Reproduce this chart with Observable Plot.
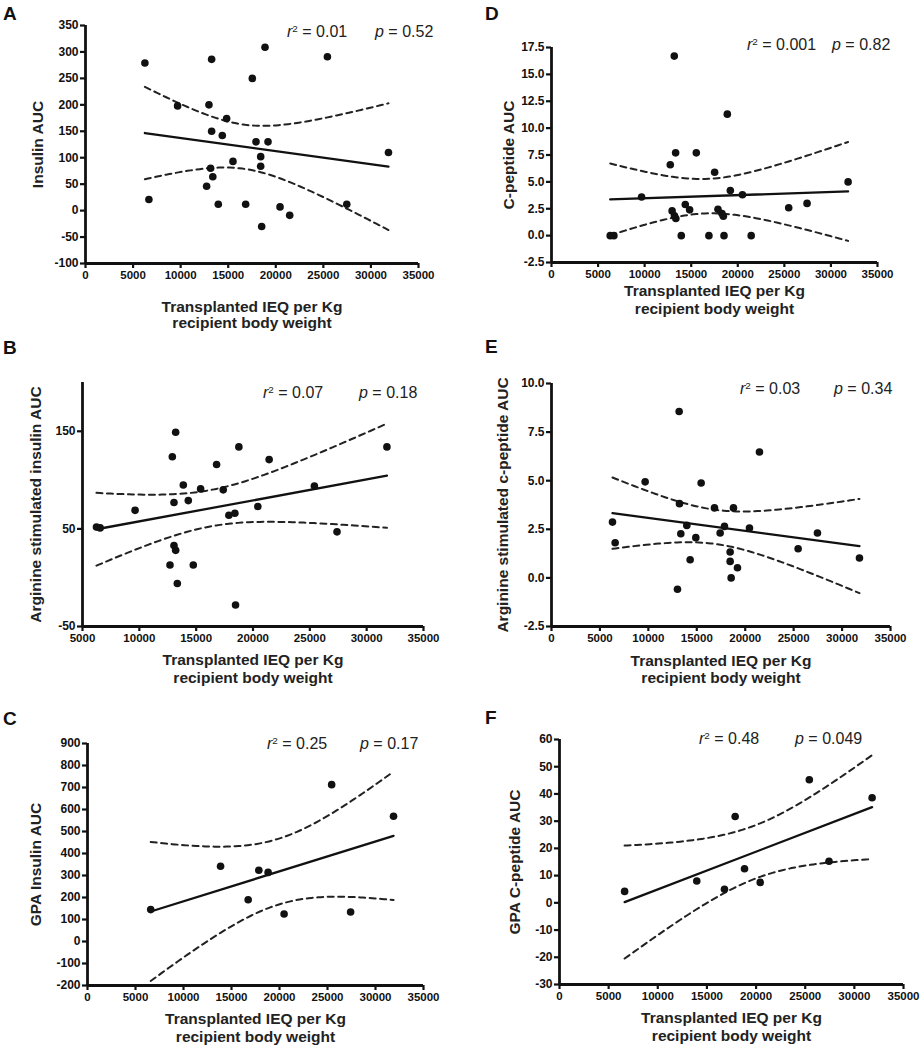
<!DOCTYPE html>
<html>
<head>
<meta charset="utf-8">
<script src="https://cdn.jsdelivr.net/npm/d3@7"></script>
<script src="https://cdn.jsdelivr.net/npm/@observablehq/plot@0.6"></script>
<style>
  body { margin: 0; background: #fff; font-family: "Liberation Sans", Arial, sans-serif; }
  #wrap { position: relative; width: 924px; height: 1050px; overflow: hidden; background: #fff; }
  .panel { position: absolute; }
  .letter { position: absolute; font-weight: bold; font-size: 19px; line-height: 1; color: #111; }
  .stat { position: absolute; font-size: 16px; line-height: 1; white-space: nowrap; color: #222; }
  .stat sup { font-size: 0.62em; vertical-align: 0.55em; line-height: 0; }
</style>
</head>
<body>
<div id="wrap"></div>
<script>
// ---------------- Data ----------------
const panelLetters = ["A", "B", "C", "D", "E", "F"];
const yTitles = [
  "Insulin AUC",
  "Arginine stimulated insulin AUC",
  "GPA Insulin AUC",
  "C-peptide AUC",
  "Arginine stimulated c-peptide AUC",
  "GPA C-peptide AUC"
];
const xTitleLine1 = "Transplanted IEQ per Kg";
const xTitleLine2 = "recipient body weight";
const r2Values = ["0.01", "0.07", "0.25", "0.001", "0.03", "0.48"];
const pValues = ["0.52", "0.18", "0.17", "0.82", "0.34", "0.049"];

// A: Insulin AUC
const ieqA = [6243, 6663, 9679, 13256, 12976, 13256, 14379, 14835, 15501, 13150, 13380, 12730, 13958, 16834, 17535, 17921, 19183, 18868, 18412, 18412, 18517, 20446, 21463, 25426, 27460, 31844];
const insulinAUC = [279, 21, 198, 286, 200, 150, 142, 174, 93, 80, 64, 46, 12, 12, 250, 130, 130, 309, 102, 84, -30, 7, -9, 291, 12, 110];

// B: Arginine stimulated insulin AUC
const ieqB = [6229, 6551, 9625, 13196, 12903, 13049, 13049, 13196, 12698, 13342, 13869, 14308, 14747, 15391, 16796, 17381, 17879, 18406, 18757, 18464, 20425, 21420, 25401, 27392, 31782];
const argInsulinAUC = [52, 51, 69, 149, 124, 77, 33, 28, 13, -6, 95, 79, 13, 91, 116, 90, 64, 66, 134, -28, 73, 121, 94, 47, 134];

// C: GPA insulin AUC
const ieqC = [6584, 13860, 16736, 17845, 18815, 20478, 25433, 27408, 31878];
const gpaInsulinAUC = [145, 342, 190, 324, 314, 125, 713, 134, 569];

// D: C-peptide AUC
const ieqD = [6304, 6698, 9671, 13182, 12752, 13325, 15546, 12950, 13200, 13350, 14364, 14830, 17516, 17874, 18304, 18450, 18877, 19200, 20500, 13934, 16900, 18520, 21440, 25468, 27438, 31844];
const cpeptideAUC = [0, 0, 3.6, 16.7, 6.6, 7.7, 7.7, 2.3, 1.85, 1.6, 2.9, 2.4, 5.9, 2.45, 2.05, 1.8, 11.3, 4.2, 3.8, 0, 0, 0, 0, 2.6, 3.0, 5.0];

// E: Arginine stimulated c-peptide AUC
const ieqE = [6297, 6572, 9669, 13179, 13213, 13351, 13007, 13970, 14900, 14315, 15450, 16826, 17411, 17859, 18787, 18444, 18444, 18547, 19201, 21472, 20440, 25463, 27459, 31795];
const argCpeptideAUC = [2.87, 1.81, 4.94, 8.56, 3.82, 2.27, -0.58, 2.70, 2.07, 0.93, 4.88, 3.60, 2.31, 2.65, 3.60, 1.33, 0.85, 0.0, 0.52, 6.48, 2.57, 1.5, 2.31, 1.02];

// F: GPA C-peptide AUC
const ieqF = [6626, 13966, 16786, 17873, 18825, 20422, 25417, 27422, 31805];
const gpaCpeptideAUC = [4.2, 8.0, 5.0, 31.7, 12.5, 7.5, 45.2, 15.3, 38.6];

// Axis ticks
const xTicksFrom0 = [0, 5000, 10000, 15000, 20000, 25000, 30000, 35000];
const xTicksFrom5000 = [5000, 10000, 15000, 20000, 25000, 30000, 35000];
const yTicksA = [-100, -50, 0, 50, 100, 150, 200, 250, 300, 350];
const yTicksB = [-50, 50, 150];
const yTicksC = [-200, -100, 0, 100, 200, 300, 400, 500, 600, 700, 800, 900];
const yTicksD = [-2.5, 0, 2.5, 5, 7.5, 10, 12.5, 15, 17.5];
const yTicksE = [-2.5, 0, 2.5, 5, 7.5, 10];
const yTicksF = [-30, -20, -10, 0, 10, 20, 30, 40, 50, 60];

// ---------------- Layout options ----------------
const panels = [
  { x: ieqA, y: insulinAUC, xDomain: [0, 35000], yDomain: [-100, 350], xTicks: xTicksFrom0, yTicks: yTicksA, dec: 0,
    left: 0, top: 0, w: 462, h: 345, ml: 85, mr: 44, mt: 25, mb: 82, t1: 48.7, t2: 64.7, ytdx: -47,
    letter: [3, 4], r2: [287, 24], p: [375, 24] },
  { x: ieqB, y: argInsulinAUC, xDomain: [5000, 35000], yDomain: [-50, 200], xTicks: xTicksFrom5000, yTicks: yTicksB, dec: 0,
    left: 0, top: 345, w: 462, h: 345, ml: 82, mr: 39, mt: 37, mb: 64, t1: 38.5, t2: 56, ytdx: -46,
    letter: [3, 337.5], r2: [263, 385], p: [359, 385] },
  { x: ieqC, y: gpaInsulinAUC, xDomain: [0, 35000], yDomain: [-200, 900], xTicks: xTicksFrom0, yTicks: yTicksC, dec: 0,
    left: 0, top: 690, w: 462, h: 360, ml: 87, mr: 39, mt: 53, mb: 65, t1: 38.3, t2: 56.5, ytdx: -51,
    letter: [3, 709], r2: [267, 736], p: [360, 736] },
  { x: ieqD, y: cpeptideAUC, xDomain: [0, 35000], yDomain: [-2.5, 17.5], xTicks: xTicksFrom0, yTicks: yTicksD, dec: 1,
    left: 462, top: 0, w: 462, h: 345, ml: 89, mr: 47, mt: 47, mb: 83, t1: 33.6, t2: 51, ytdx: -42,
    letter: [485, 4], r2: [747, 37], p: [832, 37] },
  { x: ieqE, y: argCpeptideAUC, xDomain: [0, 35000], yDomain: [-2.5, 10], xTicks: xTicksFrom0, yTicks: yTicksE, dec: 1,
    left: 462, top: 345, w: 462, h: 345, ml: 89, mr: 34, mt: 38, mb: 64, t1: 39.5, t2: 56, ytdx: -48.5,
    letter: [485, 337], r2: [740, 381], p: [834, 381] },
  { x: ieqF, y: gpaCpeptideAUC, xDomain: [0, 35000], yDomain: [-30, 60], xTicks: xTicksFrom0, yTicks: yTicksF, dec: 0,
    left: 462, top: 690, w: 462, h: 360, ml: 97, mr: 21, mt: 49, mb: 66, t1: 38.3, t2: 56, ytdx: -44,
    letter: [485, 708], r2: [699, 730.5], p: [795, 730.5] }
];

// ---------------- Regression with 95% confidence band ----------------
function tQuantile975(df) {
  const z = 1.959964;
  const g1 = (z ** 3 + z) / 4;
  const g2 = (5 * z ** 5 + 16 * z ** 3 + 3 * z) / 96;
  const g3 = (3 * z ** 7 + 19 * z ** 5 + 17 * z ** 3 - 15 * z) / 384;
  const g4 = (79 * z ** 9 + 776 * z ** 7 + 1482 * z ** 5 - 1920 * z ** 3 - 945 * z) / 92160;
  return z + g1 / df + g2 / df ** 2 + g3 / df ** 3 + g4 / df ** 4;
}
function regression(xs, ys) {
  const n = xs.length;
  const mx = d3.mean(xs), my = d3.mean(ys);
  let sxx = 0, sxy = 0;
  for (let i = 0; i < n; i++) { sxx += (xs[i] - mx) ** 2; sxy += (xs[i] - mx) * (ys[i] - my); }
  const b = sxy / sxx, a = my - b * mx;
  let sse = 0;
  for (let i = 0; i < n; i++) sse += (ys[i] - (a + b * xs[i])) ** 2;
  const s = Math.sqrt(sse / (n - 2));
  const t = tQuantile975(n - 2);
  const lo = d3.min(xs), hi = d3.max(xs);
  const steps = 80;
  const grid = d3.range(steps + 1).map(i => lo + (hi - lo) * i / steps);
  const half = x => t * s * Math.sqrt(1 / n + (x - mx) ** 2 / sxx);
  return {
    line: [lo, hi].map(x => ({ x, y: a + b * x })),
    upper: grid.map(x => ({ x, y: a + b * x + half(x) })),
    lower: grid.map(x => ({ x, y: a + b * x - half(x) }))
  };
}

// ---------------- Draw ----------------
const wrap = document.getElementById("wrap");
const font = "'Liberation Sans', Arial, Helvetica, sans-serif";

panels.forEach((cfg, k) => {
  const pts = cfg.x.map((x, i) => ({ x, y: cfg.y[i] }));
  const fit = regression(cfg.x, cfg.y);
  const fmt = d => d.toFixed(cfg.dec);
  const chart = Plot.plot({
    width: cfg.w, height: cfg.h,
    marginLeft: cfg.ml, marginRight: cfg.mr, marginTop: cfg.mt, marginBottom: cfg.mb,
    style: { fontFamily: font, background: "transparent", overflow: "visible", color: "#111" },
    x: { domain: cfg.xDomain },
    y: { domain: cfg.yDomain },
    marks: [
      Plot.axisX({ ticks: cfg.xTicks, tickSize: 5, tickPadding: 2, fontSize: 11.5, fontWeight: "bold", strokeWidth: 2.2, label: null, tickFormat: d => String(d) }),
      Plot.axisY({ ticks: cfg.yTicks, tickSize: 5, tickPadding: 2, fontSize: 12, fontWeight: "bold", strokeWidth: 2.2, label: null, tickFormat: fmt }),
      Plot.ruleX([cfg.xDomain[0]], { strokeWidth: 2.8, stroke: "#111" }),
      Plot.ruleY([cfg.yDomain[0]], { strokeWidth: 2.8, stroke: "#111" }),
      Plot.line(fit.upper, { x: "x", y: "y", stroke: "#222", strokeWidth: 2, strokeDasharray: "6,4.5", clip: true }),
      Plot.line(fit.lower, { x: "x", y: "y", stroke: "#222", strokeWidth: 2, strokeDasharray: "6,4.5", clip: true }),
      Plot.line(fit.line, { x: "x", y: "y", stroke: "#111", strokeWidth: 2.3 }),
      Plot.dot(pts, { x: "x", y: "y", r: 3.8, fill: "#111", stroke: "none" }),
      Plot.text([xTitleLine1], { text: d => d, frameAnchor: "bottom", dy: cfg.t1, fontSize: 15.5, fontWeight: "bold", fill: "#222" }),
      Plot.text([xTitleLine2], { text: d => d, frameAnchor: "bottom", dy: cfg.t2, fontSize: 15.5, fontWeight: "bold", fill: "#222" }),
      Plot.text([yTitles[k]], { text: d => d, frameAnchor: "left", textAnchor: "middle", rotate: -90, dx: cfg.ytdx, fontSize: 15.5, fontWeight: "bold", fill: "#222" })
    ]
  });
  chart.classList.add("panel");
  chart.style.left = cfg.left + "px";
  chart.style.top = cfg.top + "px";
  chart.style.position = "absolute";
  wrap.appendChild(chart);

  const letter = document.createElement("div");
  letter.className = "letter";
  letter.textContent = panelLetters[k];
  letter.style.left = cfg.letter[0] + "px";
  letter.style.top = cfg.letter[1] + "px";
  wrap.appendChild(letter);

  const r2 = document.createElement("div");
  r2.className = "stat";
  r2.innerHTML = "<i>r</i><sup>2</sup> = " + r2Values[k];
  r2.style.left = cfg.r2[0] + "px";
  r2.style.top = cfg.r2[1] + "px";
  wrap.appendChild(r2);

  const p = document.createElement("div");
  p.className = "stat";
  p.innerHTML = "<i>p</i> = " + pValues[k];
  p.style.left = cfg.p[0] + "px";
  p.style.top = cfg.p[1] + "px";
  wrap.appendChild(p);
});
</script>
</body>
</html>
